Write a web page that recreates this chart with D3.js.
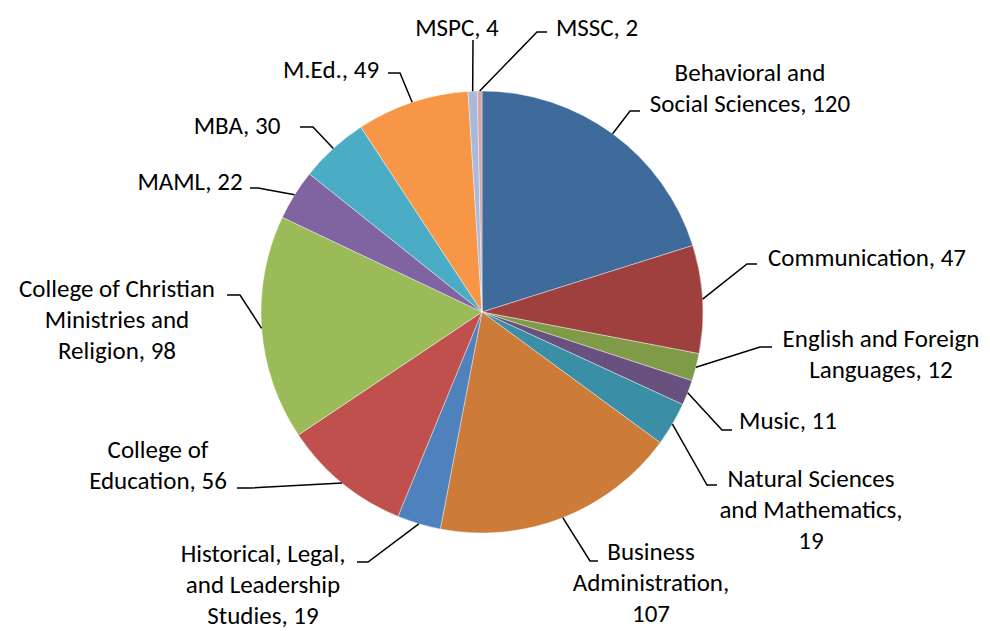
<!DOCTYPE html>
<html>
<head>
<meta charset="utf-8">
<script src="https://cdn.jsdelivr.net/npm/d3@7"></script>
<style>
  html, body { margin: 0; padding: 0; background: #fff; }
  text { font-family: Carlito, Calibri, Lato, sans-serif; font-size: 25px; fill: #000; }
</style>
</head>
<body>
<div id="chart"></div>
<script>
// slice names (line breaks as in the labels) and counts
const names = [
  ["Behavioral and", "Social Sciences"],
  ["Communication"],
  ["English and Foreign", "Languages"],
  ["Music"],
  ["Natural Sciences", "and Mathematics,"],
  ["Business", "Administration,"],
  ["Historical, Legal,", "and Leadership", "Studies"],
  ["College of", "Education"],
  ["College of Christian", "Ministries and", "Religion"],
  ["MAML"],
  ["MBA"],
  ["M.Ed."],
  ["MSPC"],
  ["MSSC"]
];
const counts = [120, 47, 12, 11, 19, 107, 19, 56, 98, 22, 30, 49, 4, 2];
const colors = ["#3e6a9c", "#9e413e", "#7f9b48", "#68517f", "#3a8ea5", "#cc7b38",
                "#4f81bd", "#c0504d", "#9bbb59", "#8064a2", "#4bacc6", "#f79646",
                "#a8b9d9", "#d9a5a4"];

// label placement: text centre x, first line centre y, leader bend and end
const labelLayout = [
  { x: 750, y: 72,  bend: [630, 111], end: [640, 111] },
  { x: 867, y: 257, bend: [747, 264], end: [757, 264] },
  { x: 881, y: 338, bend: [760, 347], end: [772, 347] },
  { x: 788, y: 420, bend: [722, 430], end: [732, 430] },
  { x: 811, y: 478, bend: [707, 485], end: [717, 485] },
  { x: 651, y: 551, bend: [590, 561], end: [598, 561] },
  { x: 263, y: 553, bend: [368, 562], end: [357, 562] },
  { x: 158, y: 449, bend: [250, 488], end: [237, 488] },
  { x: 117, y: 288, bend: [240, 295], end: [227, 295] },
  { x: 190, y: 181, bend: [258, 188], end: [250, 188] },
  { x: 237, y: 125, bend: [313, 127], end: [300, 127] },
  { x: 331, y: 69,  bend: [400, 73],  end: [388, 73] },
  { x: 457, y: 27,  bend: [473, 40],  end: [473, 40] },
  { x: 597, y: 27,  bend: [537, 32],  end: [547, 32] }
];

const width = 990, height = 631;
const cx = 482, cy = 312, r = 221, lineH = 31;

const data = counts.map((v, i) => ({ name: names[i], value: v, i: i }));

const svg = d3.select("#chart").append("svg")
  .attr("width", width).attr("height", height);

const pie = d3.pie().value(d => d.value).sort(null);
const arc = d3.arc().innerRadius(0).outerRadius(r);
const edge = d3.arc().innerRadius(r).outerRadius(r);

const arcs = pie(data);

const g = svg.append("g").attr("transform", `translate(${cx},${cy})`);

g.selectAll("path.slice")
  .data(arcs).enter().append("path")
  .attr("class", "slice")
  .attr("d", arc)
  .attr("fill", d => colors[d.data.i])
  .attr("stroke", "#fff")
  .attr("stroke-width", 0.4);

// leader lines
svg.append("g").selectAll("polyline")
  .data(arcs).enter().append("polyline")
  .attr("fill", "none")
  .attr("stroke", "#000")
  .attr("stroke-width", 1.5)
  .attr("points", d => {
    const c = edge.centroid(d);
    const L = labelLayout[d.data.i];
    return [[c[0] + cx, c[1] + cy], L.bend, L.end].map(p => p.join(",")).join(" ");
  });

// labels
const labels = svg.append("g").selectAll("text")
  .data(arcs).enter().append("text")
  .attr("text-anchor", "middle");

labels.each(function(d) {
  const L = labelLayout[d.data.i];
  const lines = d.data.name.slice();
  const last = lines.length - 1;
  // value goes on the last name line, or on its own line if the name ends with a comma
  if (lines[last].endsWith(",")) lines.push(String(d.data.value));
  else lines[last] = lines[last] + ", " + d.data.value;
  d3.select(this).selectAll("tspan")
    .data(lines).enter().append("tspan")
    .attr("x", L.x)
    .attr("y", (t, k) => L.y + k * lineH)
    .attr("dy", "0.35em")
    .text(t => t);
});
</script>
</body>
</html>
